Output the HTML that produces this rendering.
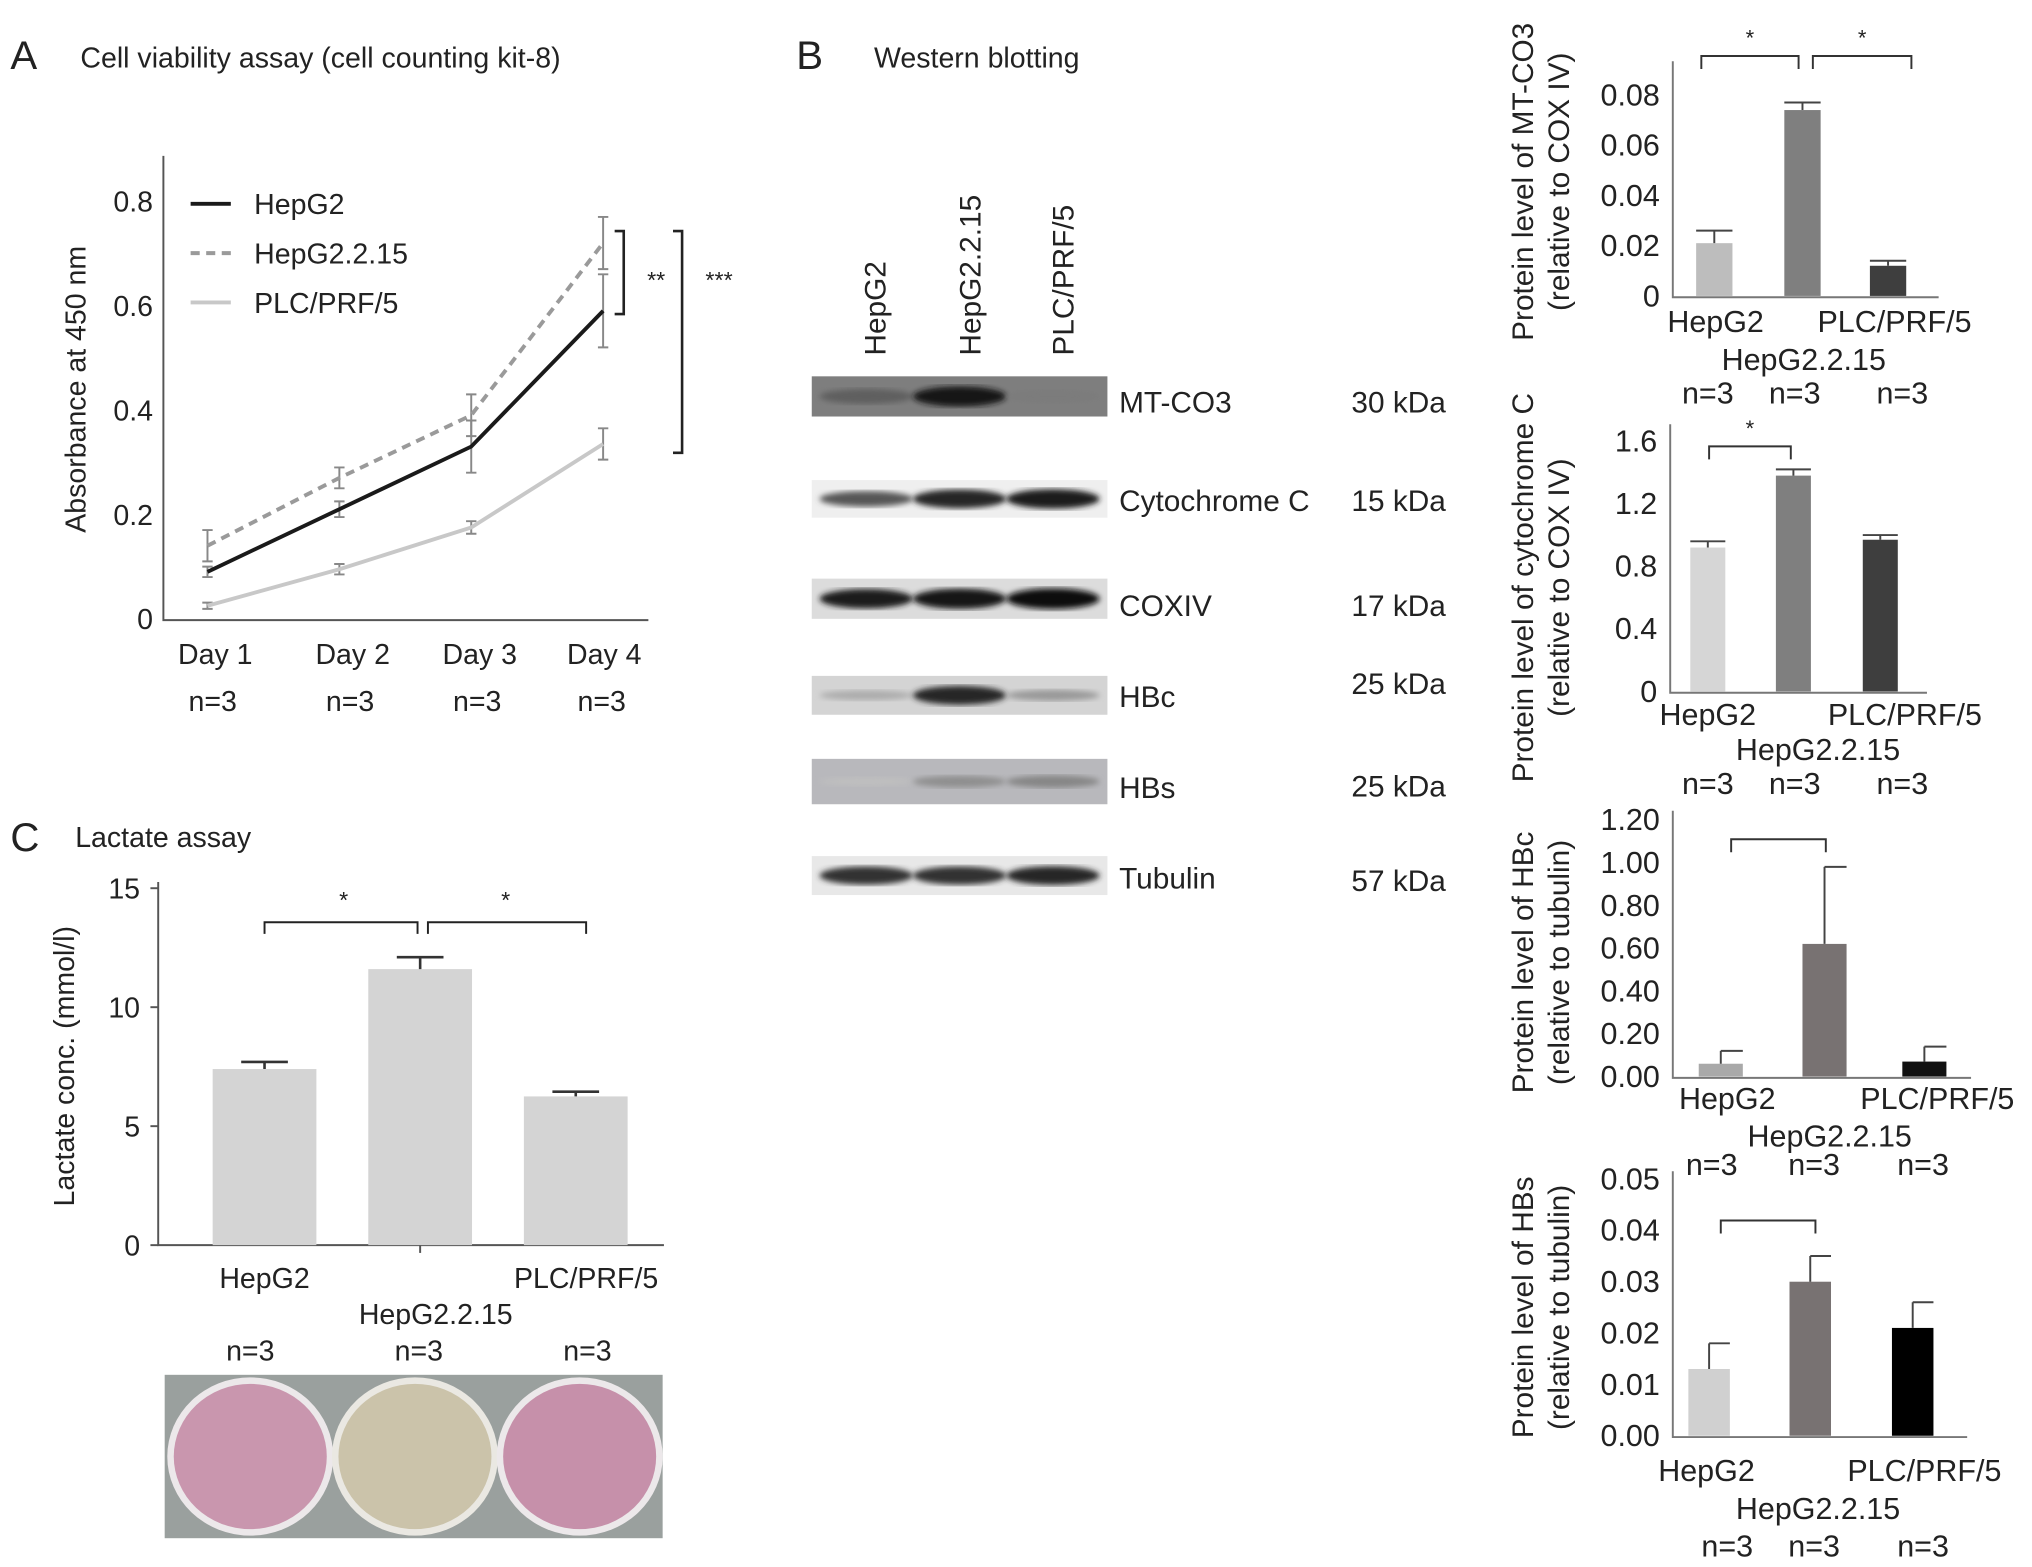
<!DOCTYPE html>
<html><head><meta charset="utf-8"><style>
html,body{margin:0;padding:0;background:#fff}
svg{display:block}
text{font-family:"Liberation Sans",sans-serif;fill:#222}
</style></head><body>
<svg id="fig" width="2032" height="1567" viewBox="0 0 1567 1208" xmlns="http://www.w3.org/2000/svg">
<defs>
<filter id="blur2"><feGaussianBlur stdDeviation="2.2"/></filter>
</defs>
<text x="8" y="53" font-size="31">A</text>
<text x="62" y="52" font-size="22">Cell viability assay (cell counting kit-8)</text>
<text x="614" y="53" font-size="31">B</text>
<text x="674" y="52" font-size="22">Western blotting</text>
<text x="8" y="656" font-size="31">C</text>
<text x="58" y="653" font-size="22">Lactate assay</text>

<g id="gA"></g>
<g id="gC"></g>
<g id="gB"></g>
<g id="gR"></g>

<g>
<rect x="127" y="1060" width="384" height="126" fill="#9aa09e"/>
<ellipse cx="193" cy="1123" rx="64" ry="61" fill="#ece8ea"/>
<ellipse cx="193" cy="1123" rx="59" ry="56" fill="#c996ae"/>
<ellipse cx="320" cy="1123" rx="64" ry="61" fill="#eae8e2"/>
<ellipse cx="320" cy="1123" rx="59" ry="56" fill="#cbc3aa"/>
<ellipse cx="447" cy="1123" rx="64" ry="61" fill="#ece8ea"/>
<ellipse cx="447" cy="1123" rx="59" ry="56" fill="#c690aa"/>
</g>
</svg>
<script>
var NS="http://www.w3.org/2000/svg";
function mk(parent,tag,attrs,txt){var e=document.createElementNS(NS,tag);for(var k in attrs)e.setAttribute(k,attrs[k]);if(txt!==undefined)e.textContent=txt;parent.appendChild(e);return e;}

var daysA=["Day 1","Day 2","Day 3","Day 4"];
var hepg2A=[0.09,0.21,0.33,0.59];
var hepg2Err=[0.01,0.015,0.05,0.07];
var hep215A=[0.14,0.27,0.39,0.72];
var hep215Err=[0.03,0.02,0.04,0.05];
var plcA=[0.025,0.095,0.175,0.335];
var plcErr=[0.006,0.01,0.012,0.03];
var ticksA=[0,0.2,0.4,0.6,0.8];
var tickLabelsA=["0","0.2","0.4","0.6","0.8"];

var groups=["HepG2","HepG2.2.15","PLC/PRF/5"];
var lactate=[7.4,11.6,6.25];
var lactateErr=[0.3,0.5,0.2];
var ticksC=[0,5,10,15];

var mtco3=[0.021,0.074,0.012];
var mtco3Err=[0.005,0.003,0.002];
var mtco3Ticks=[0,0.02,0.04,0.06,0.08];
var mtco3TickLabels=["0","0.02","0.04","0.06","0.08"];
var cytc=[0.92,1.38,0.97];
var cytcErr=[0.04,0.04,0.03];
var cytcTicks=[0,0.4,0.8,1.2,1.6];
var cytcTickLabels=["0","0.4","0.8","1.2","1.6"];
var hbc=[0.06,0.62,0.07];
var hbcErr=[0.06,0.36,0.07];
var hbcTicks=[0,0.2,0.4,0.6,0.8,1.0,1.2];
var hbcTickLabels=["0.00","0.20","0.40","0.60","0.80","1.00","1.20"];
var hbs=[0.013,0.030,0.021];
var hbsErr=[0.005,0.005,0.005];
var hbsTicks=[0,0.01,0.02,0.03,0.04,0.05];
var hbsTickLabels=["0.00","0.01","0.02","0.03","0.04","0.05"];

(function(){
var g=document.getElementById('gA');
var xA=function(i){return 160+i*101.7;};
var yA=function(v){return 477-v*402.5;};
var ax=mk(g,'path',{d:'M126,120 V478 H500',stroke:'#555','stroke-width':1.5,fill:'none'});


ticksA.forEach(function(t,i){
 var tl=mk(g,'text',{x:118,y:yA(t)+8,'font-size':22,'text-anchor':'end'},tickLabelsA[i]);
 
 
});
var lx=[166,272,370,466];
daysA.forEach(function(d,i){
 var t=mk(g,'text',{x:lx[i],y:512,'font-size':22,'text-anchor':'middle'},d);
 
 
 var n=mk(g,'text',{x:lx[i]-2,y:548,'font-size':22,'text-anchor':'middle'},'n=3');
 
 
});
var yt=mk(g,'text',{x:0,y:0,'font-size':22,'text-anchor':'middle',transform:'translate(66,300) rotate(-90)'},'Absorbance at 450 nm');


var series=[[hep215A,hep215Err,'#9a9a9a','7,5','hepg2-2-15-line'],[plcA,plcErr,'#c8c8c8','','plc-line'],[hepg2A,hepg2Err,'#1a1a1a','','hepg2-line']];
series.forEach(function(s){
 s[0].forEach(function(v,i){
  var x=xA(i),e=s[1][i];
  var eb=mk(g,'path',{d:'M'+x+','+yA(v-e)+'V'+yA(v+e)+'M'+(x-4)+','+yA(v-e)+'h8M'+(x-4)+','+yA(v+e)+'h8',stroke:'#888','stroke-width':1.5,fill:'none'});
  
  
 });
 var d=s[0].map(function(v,i){return (i?'L':'M')+xA(i)+','+yA(v);}).join('');
 var p=mk(g,'path',{d:d,stroke:s[2],'stroke-width':3,fill:'none','stroke-dasharray':s[3]});
 
 
});
var leg=[['HepG2','#1a1a1a',''],['HepG2.2.15','#9a9a9a','7,5'],['PLC/PRF/5','#c8c8c8','']];
leg.forEach(function(l,i){
 var y=157+i*38;
 var ln=mk(g,'line',{x1:147,x2:178,y1:y,y2:y,stroke:l[1],'stroke-width':3,'stroke-dasharray':l[2]});
 
 
 var t=mk(g,'text',{x:196,y:y+8,'font-size':22},l[0]);
 
 
});
var b1=mk(g,'path',{d:'M474,178H481V242H474',stroke:'#222','stroke-width':2,fill:'none'});


var s1=mk(g,'text',{x:499,y:222,'font-size':18},'**');


var b2=mk(g,'path',{d:'M519,178H526V349H519',stroke:'#222','stroke-width':2,fill:'none'});


var s2=mk(g,'text',{x:544,y:222,'font-size':18},'***');


})();

(function(){
var g=document.getElementById('gC');
var xC=function(i){return 204+i*120;};
var yC=function(v){return 960-v*18.35;};
var ax=mk(g,'path',{d:'M122,680V960H512',stroke:'#555','stroke-width':1.5,fill:'none'});


ticksC.forEach(function(t){
 var tk=mk(g,'line',{x1:116,x2:122,y1:yC(t),y2:yC(t),stroke:'#555','stroke-width':1.5});
 
 
 var tl=mk(g,'text',{x:108,y:yC(t)+8,'font-size':22,'text-anchor':'end'},String(t));
 
 
});
lactate.forEach(function(v,i){
 var x=xC(i),e=lactateErr[i];
 var b=mk(g,'rect',{x:x-40,y:yC(v),width:80,height:yC(0)-yC(v),fill:'#d4d4d4'});
 
 
 var eb=mk(g,'path',{d:'M'+x+','+yC(v)+'V'+yC(v+e)+'M'+(x-18)+','+yC(v+e)+'h36',stroke:'#333','stroke-width':2,fill:'none'});
 
 
});
var tk=mk(g,'line',{x1:324,x2:324,y1:960,y2:966,stroke:'#555','stroke-width':1.5});


var lp=[[204,985],[336,1013],[452,985]];
groups.forEach(function(gr,i){
 var t=mk(g,'text',{x:lp[i][0],y:lp[i][1]+8,'font-size':22,'text-anchor':'middle'},gr);
 
 
 var n=mk(g,'text',{x:[193,323,453][i],y:1049,'font-size':22,'text-anchor':'middle'},'n=3');
 
 
});
var yt=mk(g,'text',{x:0,y:0,'font-size':22,'text-anchor':'middle',transform:'translate(57,822) rotate(-90)'},'Lactate conc. (mmol/l)');


[[204,322,265],[330,452,390]].forEach(function(b){
 var p=mk(g,'path',{d:'M'+b[0]+',720V711H'+b[1]+'V720',stroke:'#222','stroke-width':1.5,fill:'none'});
 
 
 var s=mk(g,'text',{x:b[2],y:700,'font-size':18,'text-anchor':'middle'},'*');
 
 
});
})();

var blotNames=["MT-CO3","Cytochrome C","COXIV","HBc","HBs","Tubulin"];
var blotKda=["30 kDa","15 kDa","17 kDa","25 kDa","25 kDa","57 kDa"];
var blotIntensity=[[0.55,0.95,0.4],[0.6,0.85,0.9],[0.9,0.95,1.0],[0.15,0.85,0.25],[0.05,0.3,0.35],[0.8,0.8,0.85]];
(function(){
var g=document.getElementById('gB');
var rows=[[290,321,'#7e7e7e'],[370,399,'#efefef'],[446,477,'#dcdcdc'],[521,551,'#d4d4d4'],[585,620,'#b8b8bc'],[660,690,'#e8e8e8']];
var nameY=[310,386,467,537,607,677];
var kdaY=[310,386,467,527,606,679];
var laneX=[668,740,812];
rows.forEach(function(r,i){
 var bg=mk(g,'rect',{x:626,y:r[0],width:228,height:r[1]-r[0],fill:r[2]});
 
 
 var cy=(r[0]+r[1])/2;
 blotIntensity[i].forEach(function(v,j){
  var c=Math.round(200-v*190);
  var band=mk(g,'ellipse',{cx:laneX[j],cy:cy,rx:36,ry:3+v*5,fill:'rgb('+c+','+c+','+c+')',filter:'url(#blur2)'});
  
  
 });
 var t=mk(g,'text',{x:863,y:nameY[i]+8,'font-size':23},blotNames[i]);
 
 
 var k=mk(g,'text',{x:1115,y:kdaY[i]+8,'font-size':23,'text-anchor':'end'},blotKda[i]);
 
 
});
var lanes=[[683,"HepG2"],[756,"HepG2.2.15"],[828,"PLC/PRF/5"]];
lanes.forEach(function(l){
 var t=mk(g,'text',{x:0,y:0,'font-size':23,transform:'translate('+l[0]+',274) rotate(-90)'},l[1]);
 
 
});
})();

function barChart(cfg){
 var g=mk(document.getElementById('gR'),'g',{});
 
 
 var y=function(v){return cfg.y0-v*cfg.k;};
 var ax=mk(g,'path',{d:'M'+cfg.ax+','+cfg.top+'V'+(cfg.y0+1)+'H'+cfg.axEnd,stroke:'#777','stroke-width':1.5,fill:'none'});
 
 
 cfg.ticks.forEach(function(t,i){
  var tl=mk(g,'text',{x:cfg.ax-10,y:y(t)+8,'font-size':23.5,'text-anchor':'end'},cfg.tickLabels[i]);
  
  
 });
 cfg.values.forEach(function(v,i){
  var x=cfg.xs[i],e=cfg.err[i];
  var b=mk(g,'rect',{x:x-cfg.w/2,y:y(v),width:cfg.w,height:y(0)-y(v),fill:cfg.colors[i]});
  
  
  var eb=mk(g,'path',{d:'M'+x+','+y(v)+'V'+y(v+e)+'M'+(cfg.capFull?x-cfg.w/2:x)+','+y(v+e)+'H'+(x+cfg.w/2),stroke:'#444','stroke-width':1.5,fill:'none'});
  
  
 });
 cfg.brackets.forEach(function(b){
  var p=mk(g,'path',{d:'M'+b[0]+','+(b[2]+10)+'V'+b[2]+'H'+b[1]+'V'+(b[2]+10),stroke:'#333','stroke-width':1.5,fill:'none'});
  
  
  if(b[3]){var s=mk(g,'text',{x:(b[0]+b[1])/2,y:b[2]-8,'font-size':17,'text-anchor':'middle'},'*');
  
  }
 });
 cfg.labels.forEach(function(l,i){
  var t=mk(g,'text',{x:l[0],y:l[1]+8,'font-size':23.5,'text-anchor':'middle'},groups[i]);
  
  
 });
 cfg.nx.forEach(function(x){
  var n=mk(g,'text',{x:x,y:cfg.ny+8,'font-size':23.5,'text-anchor':'middle'},'n=3');
  
  
 });
 var t1=mk(g,'text',{x:0,y:0,'font-size':23,'text-anchor':'middle',transform:'translate(1182,'+cfg.titleY+') rotate(-90)'},cfg.title1);
 
 
 var t2=mk(g,'text',{x:0,y:0,'font-size':23,'text-anchor':'middle',transform:'translate(1210,'+cfg.titleY+') rotate(-90)'},cfg.title2);
 
 
}
barChart({name:'mtco3-chart',ax:1290,top:47,axEnd:1495,y0:228,k:1937,ticks:mtco3Ticks,tickLabels:mtco3TickLabels,values:mtco3,err:mtco3Err,
 xs:[1322,1390,1456],w:28,colors:['#bdbdbd','#7f7f7f','#3e3e3e'],capFull:true,
 brackets:[[1312,1387,43,1],[1398,1474,43,1]],labels:[[1323,248],[1391,277],[1461,248]],nx:[1317,1384,1467],ny:303,
 titleY:140,title1:'Protein level of MT-CO3',title2:'(relative to COX IV)'});
barChart({name:'cytochrome-c-chart',ax:1288,top:327,axEnd:1486,y0:533,k:120.6,ticks:cytcTicks,tickLabels:cytcTickLabels,values:cytc,err:cytcErr,
 xs:[1317,1383,1450],w:27,colors:['#d6d6d6','#7f7f7f','#3e3e3e'],capFull:true,
 brackets:[[1318,1381,344,1]],labels:[[1317,551],[1402,578],[1469,551]],nx:[1317,1384,1467],ny:604,
 titleY:453,title1:'Protein level of cytochrome C',title2:'(relative to COX IV)'});
barChart({name:'hbc-chart',ax:1290,top:625,axEnd:1520,y0:830,k:165,ticks:hbcTicks,tickLabels:hbcTickLabels,values:hbc,err:hbcErr,
 xs:[1327,1407,1484],w:34,colors:['#a9a9a9','#787272','#111111'],capFull:false,
 brackets:[[1335,1408,647,0]],labels:[[1332,847],[1411,876],[1494,847]],nx:[1320,1399,1483],ny:898,
 titleY:742,title1:'Protein level of HBc',title2:'(relative to tubulin)'});
barChart({name:'hbs-chart',ax:1290,top:903,axEnd:1517,y0:1107,k:3960,ticks:hbsTicks,tickLabels:hbsTickLabels,values:hbs,err:hbsErr,
 xs:[1318,1396,1475],w:32,colors:['#d0d0d0','#787272','#000000'],capFull:false,
 brackets:[[1327,1400,941,0]],labels:[[1316,1134],[1402,1163],[1484,1134]],nx:[1332,1399,1483],ny:1192,
 titleY:1008,title1:'Protein level of HBs',title2:'(relative to tubulin)'});
</script>
</body></html>
